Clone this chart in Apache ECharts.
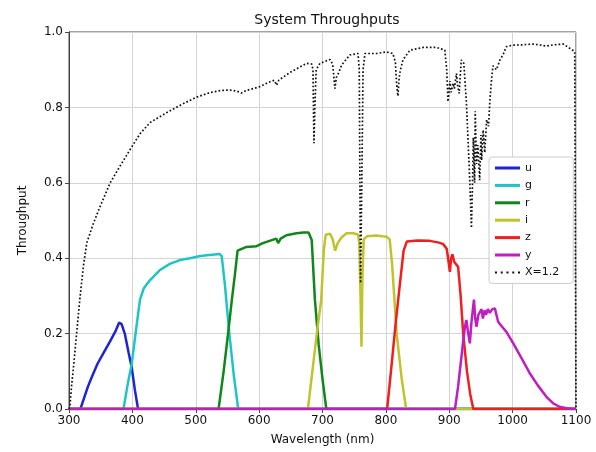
<!DOCTYPE html>
<html>
<head>
<meta charset="utf-8">
<script src="https://cdn.jsdelivr.net/npm/echarts@6/dist/echarts.min.js"></script>
<style>
html,body{margin:0;padding:0;background:#fff;}
#c{width:596px;height:452px;}
</style>
</head>
<body>
<div id="c"></div>
<script>
var xTicks = [300, 400, 500, 600, 700, 800, 900, 1000, 1100];
var yTicks = [0.0, 0.2, 0.4, 0.6, 0.8, 1.0];

var uData = [[300,0],[318,0],[322,0.02],[330,0.06],[336,0.085],[345,0.12],[355,0.15],[365,0.18],[373,0.205],[379,0.229],[383,0.225],[388,0.2],[394,0.15],[399,0.11],[404,0.05],[409,0],[1100,0]];

var gData = [[300,0],[386,0],[392,0.06],[399,0.12],[405,0.2],[412,0.29],[418,0.32],[428,0.342],[443,0.368],[459,0.385],[475,0.395],[491,0.40],[505,0.405],[517,0.408],[530,0.41],[538,0.411],[541,0.405],[546,0.33],[553,0.2],[560,0.09],[567,0],[1100,0]];

var rData = [[300,0],[536,0],[544,0.1],[551,0.2],[557,0.29],[562,0.36],[566,0.42],[580,0.43],[596,0.432],[606,0.44],[620,0.448],[627,0.452],[630,0.44],[634,0.452],[643,0.461],[659,0.466],[670,0.468],[678,0.468],[683,0.448],[688,0.29],[694,0.17],[700,0.08],[706,0],[1100,0]];

var iData = [[300,0],[677,0],[684,0.1],[691,0.2],[698,0.29],[702,0.42],[705,0.462],[712,0.465],[716,0.45],[720,0.42],[724,0.44],[730,0.455],[738,0.466],[748,0.466],[756,0.463],[758,0.44],[760,0.3],[761.5,0.165],[763,0.35],[765,0.45],[770,0.458],[785,0.46],[795,0.458],[801,0.457],[806,0.45],[810,0.38],[817,0.2],[825,0.08],[832,0],[1100,0]];

var zData = [[300,0],[802,0],[808,0.1],[815,0.22],[822,0.33],[828,0.42],[833,0.444],[850,0.447],[869,0.446],[882,0.442],[890,0.438],[896,0.425],[899,0.39],[901,0.364],[903,0.40],[905,0.41],[908,0.39],[914,0.377],[918,0.3],[922,0.2],[928,0.1],[933,0.04],[938,0],[1100,0]];

var yData = [[300,0],[909,0],[914,0.06],[918,0.12],[922,0.18],[925,0.22],[927,0.236],[930,0.2],[932.5,0.174],[935,0.23],[937,0.26],[939,0.29],[941,0.24],[943,0.218],[946,0.25],[948,0.25],[951,0.265],[953,0.24],[956,0.262],[958,0.25],[961,0.265],[964,0.255],[968,0.265],[972,0.267],[977,0.232],[980,0.225],[990,0.205],[1001,0.174],[1014,0.135],[1027,0.095],[1040,0.062],[1053,0.033],[1064,0.015],[1074,0.006],[1085,0.002],[1098,0],[1100,0]];

var atmData = [[300,0],[301.6,0.01],[304,0.06],[307,0.11],[312,0.2],[317,0.29],[322.6,0.377],[328,0.44],[338,0.49],[349,0.537],[365,0.6],[380,0.643],[396,0.687],[412,0.73],[428,0.76],[443,0.775],[455,0.787],[467,0.798],[484,0.813],[501,0.827],[522,0.839],[540,0.845],[554,0.846],[565,0.843],[572,0.838],[580,0.845],[591,0.85],[601,0.855],[617,0.868],[624,0.872],[627.6,0.859],[631,0.872],[648,0.892],[662,0.905],[675,0.917],[683,0.915],[685,0.9],[686.5,0.705],[688,0.8],[690,0.9],[696,0.917],[712,0.927],[716,0.915],[719.6,0.85],[722,0.88],[725,0.89],[730,0.912],[743,0.939],[756,0.943],[758,0.9],[760,0.334],[762,0.6],[764,0.9],[767,0.943],[785,0.943],[801,0.947],[811,0.943],[815,0.92],[817,0.86],[819,0.83],[821,0.88],[823,0.9],[827,0.926],[838,0.952],[859,0.959],[880,0.959],[893,0.952],[896,0.9],[898,0.815],[901,0.87],[903,0.84],[906,0.864],[908,0.85],[911.5,0.89],[913,0.86],[915.6,0.837],[919,0.926],[923,0.917],[927,0.815],[930,0.7],[932.5,0.6],[935,0.48],[937,0.62],[938,0.72],[940,0.6],[941,0.79],[943,0.65],[945,0.7],[948,0.607],[950,0.727],[951,0.66],[953.5,0.74],[956,0.68],[959,0.767],[962,0.75],[964,0.815],[967,0.88],[969,0.91],[974.5,0.9],[980,0.926],[985,0.94],[990,0.961],[1000,0.965],[1015,0.966],[1032,0.968],[1045,0.965],[1053,0.963],[1065,0.966],[1080,0.968],[1090,0.957],[1098,0.948],[1099.5,0.945],[1100,0]];

var seriesNames = ['u','g','r','i','z','y','X=1.2'];
var seriesColors = ['#1f23d6','#1fc4c4','#11861a','#c2c22a','#f01f1f','#c01fc0','#111111'];
var seriesData = [uData, gData, rData, iData, zData, yData, atmData];

var FONT = 'DejaVu Sans';
var DOT_ICON = 'path://M0,0h2v2h-2z M5.75,0h2v2h-2z M11.5,0h2v2h-2z M17.25,0h2v2h-2z M23,0h2v2h-2z';
var series = seriesNames.map(function(n, k){
  var dotted = (n === 'X=1.2');
  return {
    name: n,
    type: 'line',
    data: seriesData[k],
    showSymbol: false,
    symbol: 'none',
    animation: false,
    silent: true,
    z: 2 + k,
    lineStyle: {
      color: seriesColors[k],
      width: dotted ? 1.7 : 2.5,
      type: dotted ? [1.7, 2.1] : 'solid',
      cap: 'butt'
    },
    itemStyle: {color: seriesColors[k]}
  };
});

var legendData = seriesNames.map(function(n){
  return {name: n, icon: n === 'X=1.2' ? DOT_ICON : 'rect'};
});

var chart = echarts.init(document.getElementById('c'), null, {renderer: 'canvas'});
chart.setOption({
  animation: false,
  backgroundColor: '#fff',
  title: {
    text: 'System Throughputs',
    left: 322, top: 8, textAlign: 'center',
    textStyle: {fontFamily: FONT, fontSize: 14, fontWeight: 'normal', color: '#111'}
  },
  grid: {left: 69, right: 20, top: 32, bottom: 43, show: true, borderColor: '#444', borderWidth: 1, backgroundColor: 'transparent'},
  legend: {
    orient: 'vertical',
    left: 489, top: 157,
    data: legendData,
    itemWidth: 25, itemHeight: 3, itemGap: 3.4,
    itemStyle: {borderWidth: 0},
    padding: [4, 14, 4, 6],
    borderColor: '#cccccc', borderWidth: 1, borderRadius: 3,
    backgroundColor: '#ffffff',
    textStyle: {fontFamily: FONT, fontSize: 11, color: '#111', lineHeight: 14}
  },
  xAxis: {
    type: 'value', min: xTicks[0], max: xTicks[xTicks.length-1], interval: 100,
    name: 'Wavelength (nm)', nameLocation: 'middle', nameGap: 25,
    nameTextStyle: {fontFamily: FONT, fontSize: 12, color: '#111'},
    axisLine: {show: true, onZero: false, lineStyle: {color: '#444', width: 1}},
    axisTick: {show: true, inside: false, length: 4, lineStyle: {color: '#444'}},
    axisLabel: {fontFamily: FONT, fontSize: 12, color: '#111', margin: 6,
      formatter: function(v){ return String(v); }},
    splitLine: {show: true, lineStyle: {color: '#d4d4d4', width: 1}}
  },
  yAxis: {
    type: 'value', min: yTicks[0], max: yTicks[yTicks.length-1], interval: 0.2,
    name: 'Throughput', nameLocation: 'middle', nameGap: 40,
    nameTextStyle: {fontFamily: FONT, fontSize: 12, color: '#111'},
    axisLine: {show: true, lineStyle: {color: '#444', width: 1}},
    axisTick: {show: true, inside: false, length: 4, lineStyle: {color: '#444'}},
    axisLabel: {fontFamily: FONT, fontSize: 12, color: '#111', margin: 6,
      formatter: function(v){ return v.toFixed(1); }},
    splitLine: {show: true, lineStyle: {color: '#d4d4d4', width: 1}}
  },
  series: series
});
</script>
</body>
</html>
